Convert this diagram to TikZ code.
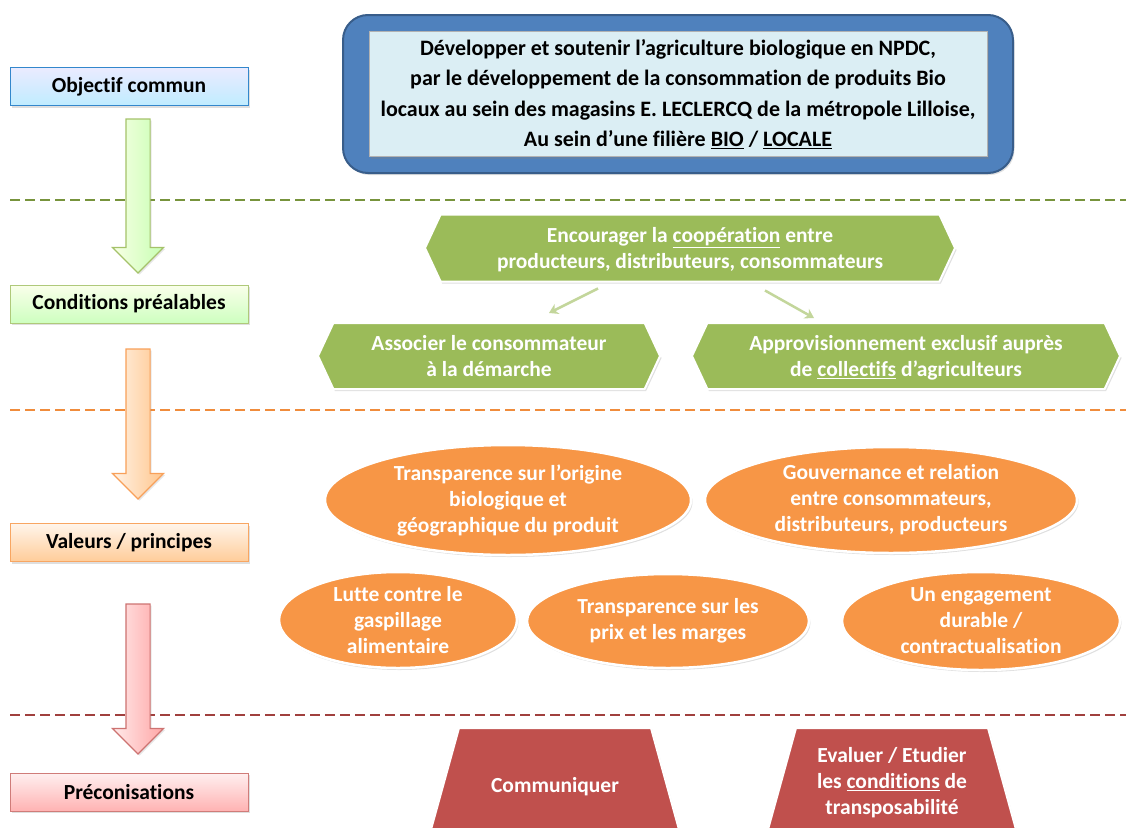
\documentclass[tikz,border=0pt]{standalone}
\usepackage{fontspec}
\setmainfont{Carlito}[Ligatures=NoCommon]
\usepackage{tikz}
\usetikzlibrary{positioning,calc,arrows.meta,shapes.geometric,shapes.symbols,shapes.arrows,shadows}
\definecolor{bluedark}{HTML}{385D8A}
\definecolor{bluemid}{HTML}{4F81BD}
\definecolor{bluepale}{HTML}{DBEEF4}
\definecolor{hexgreen}{HTML}{9BBB59}
\definecolor{ovalorange}{HTML}{F79646}
\definecolor{trapred}{HTML}{C0504D}
\definecolor{dashgreen}{HTML}{77933C}
\definecolor{dashorange}{HTML}{F08C3C}
\definecolor{dashred}{HTML}{A0403E}
\definecolor{lightarrow}{HTML}{C3D69B}
\newcommand{\lblfont}{\fontsize{21.5}{24}\selectfont\bfseries}
\newcommand{\shpfont}{\fontsize{21.5}{26}\selectfont\bfseries}

\begin{document}
\begin{tikzpicture}[x=1pt,y=-1pt,
    lbl/.style={rectangle,minimum width=238pt,minimum height=38pt,inner sep=0pt,
        font=\lblfont,line width=1pt,
        drop shadow={opacity=0.25,shadow xshift=1.5pt,shadow yshift=-2pt}},
    bigarrow/.style={single arrow,rotate=-90,minimum height=150pt,minimum width=50pt,
        single arrow head extend=13.5pt,single arrow head indent=0pt,inner xsep=0pt,
        inner ysep=11.5pt,line width=1.2pt,
        drop shadow={opacity=0.2,shadow xshift=1.5pt,shadow yshift=-1.5pt}},
    hexa/.style={signal,signal to=west and east,signal pointer angle=130,fill=hexgreen,
        draw=white,line width=2pt,inner sep=0pt,text=white,font=\shpfont,align=center,
        text depth=0pt,
        drop shadow={opacity=0.25,shadow xshift=1.5pt,shadow yshift=-2pt}},
    oval/.style={ellipse,fill=ovalorange,draw=white,line width=2.5pt,inner sep=0pt,
        text=white,font=\shpfont,align=center,
        drop shadow={opacity=0.25,shadow xshift=1.5pt,shadow yshift=-2pt}},
    trapshape/.style={fill=trapred,draw=white,line width=2pt,
        drop shadow={opacity=0.2,shadow xshift=1pt,shadow yshift=-1pt}},
    traptext/.style={text=white,font=\shpfont,align=center,inner sep=0pt},
    sep/.style={line width=2.5pt,dash pattern=on 10pt off 5pt},
    edge/.style={-{Stealth[length=9pt,width=11pt]},line width=2.5pt,color=lightarrow}]

    \clip (0,0) rectangle (1126,827);

    %--------------------------------------------
    % Separators
    \draw[sep, color=dashgreen] (10,200) -- (1126,200);
    \draw[sep, color=dashorange] (10,410) -- (1126,410);
    \draw[sep, color=dashred] (10,715) -- (1126,715);

    %--------------------------------------------
    % Left column
    \node[lbl,draw=blue!45!cyan!60!gray,top color=blue!8,bottom color=blue!30!cyan!25] (obj) at (129,86.5) {Objectif commun};
    \node[lbl,draw=hexgreen!80,top color=lime!8,bottom color=lime!30!green!25] (cond) at (129,304) {Conditions préalables};
    \node[lbl,draw=ovalorange!85,top color=orange!8,bottom color=orange!40] (val) at (129,542.5) {Valeurs / principes};
    \node[lbl,draw=trapred!75,top color=red!6,bottom color=red!30] (preco) at (129,792) {Préconisations};

    \node[bigarrow,draw=hexgreen!90,left color=lime!10,right color=lime!35!green!30,minimum height=154pt] (arr1) at (138,190) {};
    \node[bigarrow,draw=ovalorange!90,left color=orange!10,right color=orange!45] (arr2) at (138,418) {};
    \node[bigarrow,draw=trapred!80,left color=red!8,right color=red!35] (arr3) at (138,673) {};

    %--------------------------------------------
    % Objectif
    \node[rectangle,rounded corners=25pt,minimum width=670pt,minimum height=158pt,
        fill=bluemid,draw=bluedark,line width=2pt,
        drop shadow={opacity=0.25,shadow xshift=1.5pt,shadow yshift=-2pt}] (goal) at (678,94) {};
    \node[rectangle,minimum width=618pt,minimum height=125pt,fill=bluepale,draw=gray!60,
        line width=0.6pt,font=\fontsize{22}{30.5}\selectfont\bfseries,align=center,
        drop shadow={opacity=0.3,shadow xshift=1.5pt,shadow yshift=-2pt}] (goaltext) at (goal.center)
        {Développer et soutenir l’agriculture biologique en NPDC,\\
         par le développement de la consommation de produits Bio\\
         locaux au sein des magasins E. LECLERCQ de la métropole Lilloise,\\
         Au sein d’une filière \underline{BIO} / \underline{LOCALE}};

    %--------------------------------------------
    % Conditions
    \node[hexa,minimum width=530pt,minimum height=67pt] (coop) at (690,248)
        {Encourager la \underline{coopération} entre\\producteurs, distributeurs, consommateurs};
    \node[hexa,minimum width=342pt,minimum height=66pt] (assoc) at (489,356)
        {Associer le consommateur\\à la démarche};
    \node[hexa,minimum width=428pt,minimum height=66pt] (appro) at (906,356)
        {Approvisionnement exclusif auprès\\de \underline{collectifs} d’agriculteurs};

    \draw[edge] ($(coop.south)+(-92,6)$) -- ($(assoc.north)+(60,-9)$);
    \draw[edge] ($(coop.south)+(75,8)$) -- ($(appro.north)+(-92,-4)$);

    %--------------------------------------------
    % Valeurs
    \node[oval,minimum width=366pt,minimum height=110pt] (origine) at (508,500)
        {Transparence sur l’origine\\biologique et\\géographique du produit};
    \node[oval,minimum width=372pt,minimum height=106pt] (gouv) at (891,500)
        {Gouvernance et relation\\entre consommateurs,\\distributeurs, producteurs};
    \node[oval,minimum width=238pt,minimum height=96pt] (gaspi) at (398,620)
        {Lutte contre le\\gaspillage\\alimentaire};
    \node[oval,minimum width=282pt,minimum height=94pt] (prix) at (668,621)
        {Transparence sur les\\prix et les marges};
    \node[oval,minimum width=278pt,minimum height=98pt] (engag) at (981,621)
        {Un engagement\\durable /\\contractualisation};

    %--------------------------------------------
    % Préconisations
    \foreach \cx in {555,892}
        \draw[trapshape] (\cx-96,728) -- (\cx+96,728) -- (\cx+128,844) -- (\cx-128,844) -- cycle;
    \node[traptext] (comm) at (555,787) {Communiquer};
    \node[traptext] (evalu) at (892,783)
        {Evaluer / Etudier\\les \underline{conditions} de\\transposabilité};
\end{tikzpicture}
\end{document}
